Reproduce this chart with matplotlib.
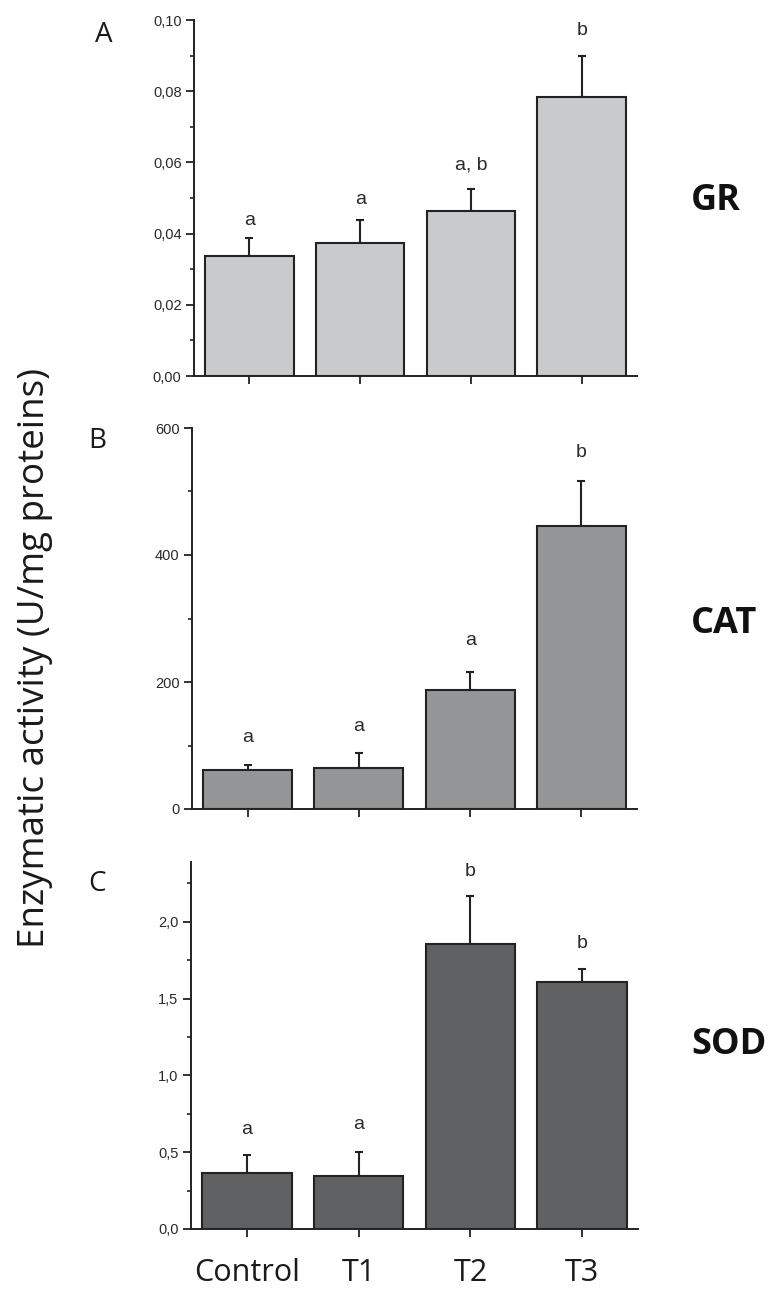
import matplotlib
matplotlib.use("Agg")
import matplotlib.pyplot as plt
from matplotlib.ticker import MultipleLocator, FuncFormatter

# Treatments
groups = ["Control", "T1", "T2", "T3"]

# Glutathione reductase (GR)
gr_mean = [0.0337, 0.0374, 0.0463, 0.0783]
gr_err = [0.0051, 0.0063, 0.0063, 0.0117]
gr_letters = ["a", "a", "a, b", "b"]
gr_letter_y = [0.0438, 0.0496, 0.0593, 0.0970]

# Catalase (CAT)
cat_mean = [62, 64.5, 188, 445]
cat_err = [7, 23.5, 28, 71]
cat_letters = ["a", "a", "a", "b"]
cat_letter_y = [113, 130, 266, 562]

# Superoxide dismutase (SOD)
sod_mean = [0.366, 0.345, 1.855, 1.606]
sod_err = [0.115, 0.155, 0.316, 0.084]
sod_letters = ["a", "a", "b", "b"]
sod_letter_y = [0.648, 0.683, 2.33, 1.857]

W, H = 772, 1290
fig = plt.figure(figsize=(W / 100, H / 100), dpi=100)
fig.patch.set_facecolor("white")

EDGE = "#222222"
TXT = "#2a2a2a"


def px_axes(left, right, top, bottom):
    return fig.add_axes([left / W, (H - bottom) / H, (right - left) / W, (bottom - top) / H])


def comma_fmt(decimals):
    return FuncFormatter(lambda v, p: f"{v:.{decimals}f}".replace(".", ","))


panels = [
    dict(box=(194, 637, 20, 376), mean=gr_mean, err=gr_err, letters=gr_letters,
         ly=gr_letter_y, color="#c8cacc", ylim=(0, 0.10), major=0.02, minor=0.01,
         fmt=comma_fmt(2), tag="A", tag_xy=(104, 35), name="GR", name_xy=(691, 201)),
    dict(box=(192, 637, 428, 809), mean=cat_mean, err=cat_err, letters=cat_letters,
         ly=cat_letter_y, color="#939597", ylim=(0, 600), major=200, minor=100,
         fmt=FuncFormatter(lambda v, p: f"{v:.0f}"), tag="B", tag_xy=(97, 441),
         name="CAT", name_xy=(691, 624)),
    dict(box=(191, 638, 862, 1229), mean=sod_mean, err=sod_err, letters=sod_letters,
         ly=sod_letter_y, color="#5f6163", ylim=(0, 2.39), major=0.5, minor=0.25,
         fmt=comma_fmt(1), tag="C", tag_xy=(97, 884), name="SOD", name_xy=(691, 1045)),
]

x = list(range(len(groups)))

for i, p in enumerate(panels):
    ax = px_axes(*p["box"])
    ax.bar(x, p["mean"], width=0.8, color=p["color"], edgecolor=EDGE, linewidth=1.5, zorder=2)
    ax.errorbar(x, p["mean"], yerr=[[0] * 4, p["err"]], fmt="none", ecolor=EDGE,
                elinewidth=1.5, capsize=3, capthick=1.5, zorder=1)
    for xi, lab, yy in zip(x, p["letters"], p["ly"]):
        ax.text(xi, yy, lab, ha="center", va="center", fontsize=14,
                family="Liberation Sans", color=TXT)
    ax.set_xlim(-0.5, 3.5)
    ax.set_ylim(*p["ylim"])
    ax.yaxis.set_major_locator(MultipleLocator(p["major"]))
    ax.yaxis.set_minor_locator(MultipleLocator(p["minor"]))
    ax.yaxis.set_major_formatter(p["fmt"])
    ax.set_xticks(x)
    if i == 2:
        ax.set_xticklabels(groups, fontsize=22, family="Open Sans", color="#1a1a1a")
        ax.tick_params(axis="x", pad=15)
    else:
        ax.set_xticklabels([])
    for s in ("top", "right"):
        ax.spines[s].set_visible(False)
    for s in ("left", "bottom"):
        ax.spines[s].set_linewidth(1.4)
        ax.spines[s].set_color(EDGE)
    ax.tick_params(axis="both", which="major", direction="out", length=6, width=1.3, color=EDGE)
    ax.tick_params(axis="y", which="minor", direction="out", length=3, width=1.2, color=EDGE)
    ax.tick_params(axis="y", labelsize=10.5, labelcolor=TXT, pad=3)
    for t in ax.get_yticklabels():
        t.set_family("Liberation Sans")

    fig.text(p["tag_xy"][0] / W, 1 - p["tag_xy"][1] / H, p["tag"], fontsize=20,
             family="Open Sans", color="#1a1a1a", ha="center", va="center")
    fig.text(p["name_xy"][0] / W, 1 - p["name_xy"][1] / H, p["name"], fontsize=26,
             family="Open Sans", weight="bold", color="#111111", ha="left", va="center")

fig.text(35 / W, 1 - 658 / H, "Enzymatic activity (U/mg proteins)", rotation=90,
         fontsize=26.5, family="Open Sans", color="#1a1a1a", ha="center", va="center")

fig.savefig("out.png", dpi=100, facecolor="white")
